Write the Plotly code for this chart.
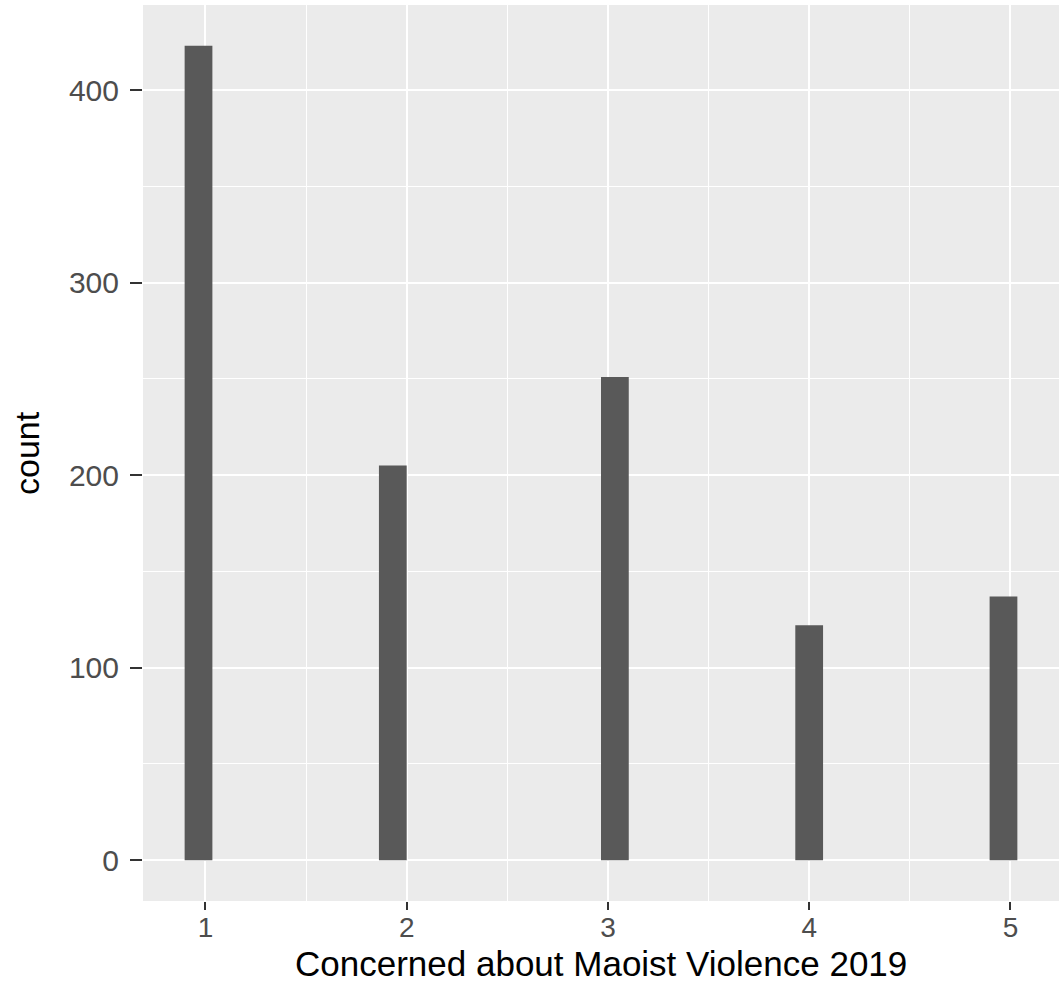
import math
import plotly.graph_objects as go

# Data (ggplot2-style histogram, 30 bins)
values = [1, 2, 3, 4, 5]
counts = [423, 205, 251, 122, 137]
x_tick_labels = ["1", "2", "3", "4", "5"]
y_tick_values = [0, 100, 200, 300, 400]
x_title = "Concerned about Maoist Violence 2019"
y_title = "count"

# ggplot2 default binning (bins = 30, right-closed)
bins = 30
lo, hi = min(values), max(values)
bw = (hi - lo) / (bins - 1)
boundary = bw / 2
shift = math.floor((lo - boundary) / bw)
origin = boundary + shift * bw
centers = []
for v in values:
    idx = math.ceil((v - origin) / bw - 1e-9) - 1
    centers.append(origin + (idx + 0.5) * bw)

x_lo, x_hi = origin, origin + bins * bw
span = x_hi - x_lo
x_range = [x_lo - 0.05 * span, x_hi + 0.05 * span]
ymax = max(counts)
y_range = [-0.05 * ymax, ymax * 1.05]

FONT = "Liberation Sans, Arial, sans-serif"

fig = go.Figure(
    go.Bar(
        x=centers,
        y=counts,
        width=bw,
        marker=dict(color="#595959", line=dict(width=0)),
        hoverinfo="x+y",
    )
)

fig.update_layout(
    width=1059,
    height=986,
    margin=dict(l=143, r=0, t=5, b=85),
    paper_bgcolor="white",
    plot_bgcolor="#EBEBEB",
    showlegend=False,
    font=dict(family=FONT),
    xaxis=dict(
        range=x_range,
        tickvals=values,
        ticktext=x_tick_labels,
        ticks="outside",
        ticklen=8,
        tickwidth=2,
        tickcolor="#333333",
        tickfont=dict(size=28, color="#4D4D4D", family=FONT),
        ticklabelstandoff=-7,
        showgrid=True,
        gridcolor="white",
        gridwidth=2,
        zeroline=False,
        showline=False,
        minor=dict(dtick=0.5, tick0=0.5, showgrid=True, gridcolor="white", gridwidth=1),
        fixedrange=True,
    ),
    yaxis=dict(
        range=y_range,
        tickvals=y_tick_values,
        ticktext=[str(v) for v in y_tick_values],
        ticks="outside",
        ticklen=12,
        tickwidth=2,
        tickcolor="#333333",
        tickfont=dict(size=30, color="#4D4D4D", family=FONT),
        ticklabelstandoff=5,
        showgrid=True,
        gridcolor="white",
        gridwidth=2,
        zeroline=False,
        showline=False,
        minor=dict(dtick=50, tick0=0, showgrid=True, gridcolor="white", gridwidth=1),
        fixedrange=True,
    ),
    annotations=[
        dict(
            text=x_title,
            xref="paper", yref="paper",
            x=0.5, y=0,
            xanchor="center", yanchor="top",
            yshift=-41,
            showarrow=False,
            font=dict(size=35, color="black", family=FONT),
        ),
        dict(
            text=y_title,
            xref="paper", yref="paper",
            x=0, y=0.5,
            xanchor="right", yanchor="middle",
            xshift=-95,
            textangle=-90,
            showarrow=False,
            font=dict(size=34, color="black", family=FONT),
        ),
    ],
)

fig.write_html(
    "out.html",
    config={"displayModeBar": False},
    post_script="document.body.style.margin='0';document.body.style.padding='0';",
)
